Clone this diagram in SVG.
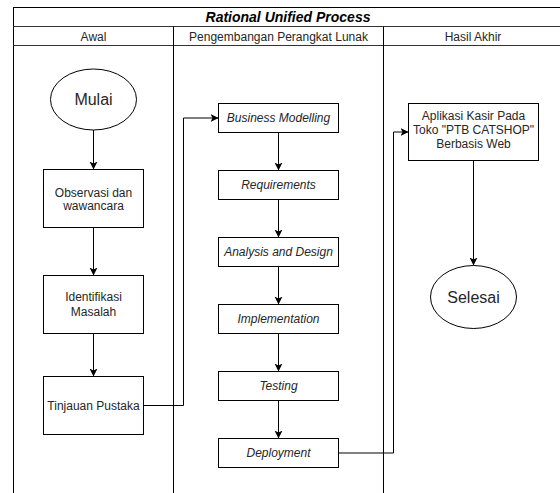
<svg xmlns="http://www.w3.org/2000/svg" width="560" height="493" viewBox="0 0 560 493">
<defs>
<style>
.frame{fill:none;stroke:#000;stroke-width:1}
.sep{fill:none;stroke:#333;stroke-width:1}
.box{fill:#fff;stroke:#000;stroke-width:1}
.edge{fill:none;stroke:#000;stroke-width:1}
.t{font-family:"Liberation Sans",Arial,sans-serif;font-size:12px;fill:#262626;text-anchor:middle}
.i{font-style:italic}
.big{font-size:16px}
.title{font-family:"Liberation Sans",Arial,sans-serif;font-size:14px;font-weight:bold;font-style:italic;fill:#000;text-anchor:middle}
</style>
<marker id="arr" markerWidth="10" markerHeight="10" refX="8" refY="4" orient="auto" markerUnits="userSpaceOnUse">
<path d="M0,0 L8,4 L0,8 L2,4 z" fill="#000"/>
</marker>
</defs>
<rect width="560" height="493" fill="#fff"/>
<g id="pool">
<rect class="frame" x="13.5" y="7.5" width="560" height="500"/>
<line class="sep" x1="13.5" y1="26.5" x2="573.5" y2="26.5"/>
<line class="sep" x1="13.5" y1="45.5" x2="573.5" y2="45.5"/>
<line class="frame" x1="173.5" y1="26.5" x2="173.5" y2="500"/>
<line class="frame" x1="383.5" y1="26.5" x2="383.5" y2="500"/>
<text class="title" x="288" y="21.5">Rational Unified Process</text>
<text class="t" x="93.5" y="40.5">Awal</text>
<text class="t" x="278.5" y="40.5">Pengembangan Perangkat Lunak</text>
<text class="t" x="473" y="40.5">Hasil Akhir</text>
</g>
<g id="connectors">
<path class="edge" marker-end="url(#arr)" d="M93.5,130 V169.5"/>
<path class="edge" marker-end="url(#arr)" d="M93.5,227.5 V275.5"/>
<path class="edge" marker-end="url(#arr)" d="M93.5,333.5 V376.5"/>
<path class="edge" marker-end="url(#arr)" d="M143.5,405.5 H183.5 V118 H218.5"/>
<path class="edge" marker-end="url(#arr)" d="M278.5,132.5 V170.5"/>
<path class="edge" marker-end="url(#arr)" d="M278.5,199.5 V237.5"/>
<path class="edge" marker-end="url(#arr)" d="M278.5,266.5 V304.5"/>
<path class="edge" marker-end="url(#arr)" d="M278.5,333.5 V371.5"/>
<path class="edge" marker-end="url(#arr)" d="M278.5,400.5 V438.5"/>
<path class="edge" marker-end="url(#arr)" d="M338.5,453 H393.5 V132 H408.5"/>
<path class="edge" marker-end="url(#arr)" d="M473.5,160.5 V265.5"/>
</g>
<g id="mulai">
<ellipse class="box" cx="93.5" cy="99.5" rx="43" ry="30.5"/>
<text class="t big" x="93.5" y="105">Mulai</text>
</g>
<g id="observasi">
<rect class="box" x="43.5" y="169.5" width="100" height="58"/>
<text class="t" x="93.5" y="196.5">Observasi dan</text>
<text class="t" x="93.5" y="210">wawancara</text>
</g>
<g id="identifikasi">
<rect class="box" x="43.5" y="275.5" width="100" height="58"/>
<text class="t" x="93.5" y="301">Identifikasi</text>
<text class="t" x="93.5" y="316">Masalah</text>
</g>
<g id="tinjauan">
<rect class="box" x="43.5" y="376.5" width="100" height="58"/>
<text class="t" x="93.5" y="410">Tinjauan Pustaka</text>
</g>
<g id="business">
<rect class="box" x="218.5" y="103.5" width="120" height="29"/>
<text class="t i" x="278.5" y="122">Business Modelling</text>
</g>
<g id="requirements">
<rect class="box" x="218.5" y="170.5" width="120" height="29"/>
<text class="t i" x="278.5" y="189">Requirements</text>
</g>
<g id="analysis">
<rect class="box" x="218.5" y="237.5" width="120" height="29"/>
<text class="t i" x="278.5" y="256">Analysis and Design</text>
</g>
<g id="implementation">
<rect class="box" x="218.5" y="304.5" width="120" height="29"/>
<text class="t i" x="278.5" y="323">Implementation</text>
</g>
<g id="testing">
<rect class="box" x="218.5" y="371.5" width="120" height="29"/>
<text class="t i" x="278.5" y="390">Testing</text>
</g>
<g id="deployment">
<rect class="box" x="218.5" y="438.5" width="120" height="29"/>
<text class="t i" x="278.5" y="457">Deployment</text>
</g>
<g id="aplikasi">
<rect class="box" x="408.5" y="103.5" width="130" height="57"/>
<text class="t" x="473.5" y="120">Aplikasi Kasir Pada</text>
<text class="t" x="473.5" y="134">Toko "PTB CATSHOP"</text>
<text class="t" x="473.5" y="148">Berbasis Web</text>
</g>
<g id="selesai">
<ellipse class="box" cx="473.5" cy="297" rx="43" ry="31.5"/>
<text class="t big" x="473.5" y="302.5">Selesai</text>
</g>
</svg>
